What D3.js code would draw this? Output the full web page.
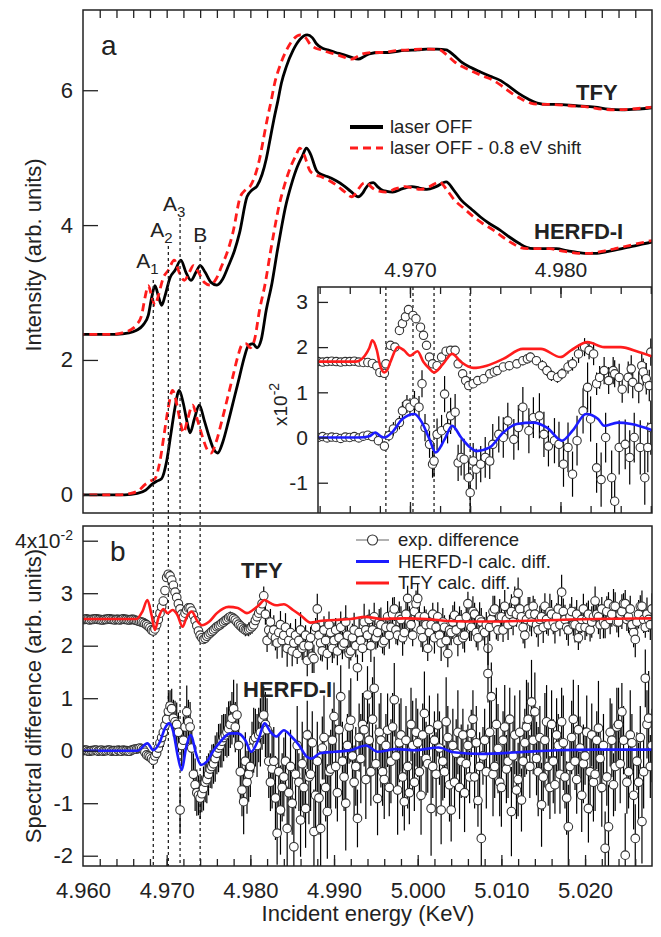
<!DOCTYPE html>
<html>
<head>
<meta charset="utf-8">
<script src="https://cdn.jsdelivr.net/npm/d3@7"></script>
<style>
  body { margin: 0; background: #fff; }
  svg { display: block; }
</style>
</head>
<body>
<div id="chart"></div>
<script>
// energies in eV, panel a in arb. units, differences in units of 1e-2

// panel a: laser OFF spectra
var tfyOff = [
  [4960,2.38],[4964,2.38],[4965.5,2.40],[4966.4,2.44],[4967.2,2.52],[4967.8,2.66],[4968.2,2.92],[4968.6,3.10],
  [4969.0,2.95],[4969.4,2.81],[4969.8,2.95],[4970.4,3.22],[4971.0,3.33],[4971.7,3.48],[4972.3,3.30],[4972.9,3.18],
  [4973.5,3.30],[4974.0,3.40],[4974.6,3.30],[4975.3,3.15],[4976.0,3.11],[4976.7,3.20],[4977.4,3.40],[4978.1,3.62],
  [4978.7,3.88],[4979.6,4.42],[4980.2,4.52],[4980.8,4.58],[4981.4,4.75],[4981.9,4.98],[4982.4,5.30],[4982.8,5.56],
  [4983.3,5.85],[4983.7,6.10],[4984.3,6.35],[4985.1,6.59],[4985.9,6.75],[4986.8,6.82],[4987.4,6.78],[4987.9,6.69],
  [4988.5,6.63],[4989.2,6.60],[4990.2,6.56],[4991.1,6.53],[4992.0,6.49],[4992.9,6.46],[4993.6,6.50],[4994.2,6.54],
  [4995.5,6.56],[4996.5,6.56],[4998.4,6.59],[5000.0,6.60],[5001.1,6.61],[5002.3,6.61],[5003.4,6.60],[5004.3,6.52],
  [5005.2,6.42],[5006.3,6.34],[5007.5,6.27],[5008.6,6.21],[5009.8,6.15],[5011.0,6.05],[5012.1,5.95],[5013.2,5.87],
  [5014.3,5.81],[5015.5,5.79],[5016.6,5.79],[5018.9,5.77],[5021.2,5.75],[5022.8,5.72],[5024.4,5.71],[5026.2,5.72],
  [5028.0,5.74],[5028.8,5.75]
];
var herfdOff = [
  [4960,0.00],[4965,0.00],[4966.5,0.02],[4967.5,0.07],[4968.2,0.15],[4968.8,0.20],[4969.4,0.24],[4970.0,0.50],
  [4970.5,0.90],[4971.0,1.30],[4971.5,1.55],[4972.0,1.35],[4972.4,1.10],[4972.8,0.92],[4973.3,1.12],[4973.9,1.33],
  [4974.5,1.10],[4975.1,0.85],[4975.6,0.68],[4976.1,0.62],[4976.7,0.78],[4977.4,1.10],[4978.1,1.45],[4978.7,1.75],
  [4979.3,2.05],[4979.8,2.22],[4980.3,2.24],[4980.8,2.18],[4981.3,2.30],[4981.9,2.74],[4982.6,3.15],[4983.2,3.60],
  [4983.7,3.95],[4984.2,4.27],[4984.9,4.60],[4985.6,4.86],[4986.2,5.02],[4986.7,5.14],[4987.2,5.05],[4987.9,4.81],
  [4988.5,4.75],[4989.2,4.72],[4990.2,4.66],[4991.1,4.59],[4992.0,4.50],[4992.9,4.42],[4993.4,4.47],[4993.8,4.55],
  [4994.3,4.62],[4994.7,4.63],[4995.2,4.57],[4995.6,4.53],[4996.3,4.50],[4997.0,4.49],[4998.2,4.54],[4999.3,4.57],
  [5000.2,4.55],[5001.1,4.53],[5002.2,4.57],[5003.4,4.64],[5004.3,4.52],[5005.2,4.37],[5006.3,4.25],[5007.5,4.12],
  [5008.6,4.02],[5009.8,3.93],[5011.0,3.82],[5012.1,3.73],[5013.0,3.67],[5013.9,3.65],[5015.3,3.65],[5016.6,3.65],
  [5017.8,3.62],[5018.9,3.60],[5020.0,3.58],[5021.2,3.58],[5022.8,3.61],[5024.4,3.65],[5026.2,3.70],[5028.0,3.75],
  [5028.8,3.77]
];
var shiftEV = 0.8;   // "laser OFF - 0.8 eV shift"

// features A1, A2, A3, B
var markers = [4968.4, 4970.2, 4971.6, 4974.0];
var markerNames = [["A", "1"], ["A", "2"], ["A", "3"], ["B", ""]];

// inset: [E, diff, err]
var insetTfyExp = [
  [4963.9,1.68,.02],[4964.2,1.67,.02],[4964.5,1.68,.02],[4964.8,1.69,.02],[4965.1,1.68,.02],[4965.4,1.67,.02],
  [4965.7,1.68,.02],[4966.0,1.68,.02],[4966.3,1.69,.02],[4966.6,1.67,.02],[4966.9,1.66,.02],[4967.2,1.66,.03],
  [4967.5,1.64,.03],[4967.8,1.58,.04],[4968.0,1.44,.04],[4968.3,1.42,.05],[4968.4,1.63,.05],[4968.7,2.04,.06],
  [4969.0,2.00,.06],[4969.3,2.37,.06],[4969.5,2.52,.06],[4969.7,2.67,.07],[4969.9,2.83,.07],[4970.2,2.70,.07],
  [4970.4,2.63,.07],[4970.7,2.44,.07],[4970.9,2.26,.07],[4971.1,2.04,.07],[4971.3,1.78,.07],[4971.5,1.63,.07],
  [4971.8,1.59,.07],[4972.1,1.78,.08],[4972.4,1.91,.08],[4972.7,1.93,.08],[4973.0,1.93,.08],[4973.2,1.63,.08],
  [4973.5,1.41,.08],[4973.7,1.26,.08],[4973.9,1.15,.08],[4974.2,1.19,.08],[4974.5,1.26,.08],[4974.9,1.30,.08],
  [4975.3,1.41,.08],[4975.6,1.45,.08],[4975.8,1.48,.08],[4976.2,1.56,.08],[4976.6,1.59,.10],[4977.1,1.63,.10],
  [4977.5,1.70,.10],[4977.8,1.74,.10],[4978.0,1.78,.10],[4978.4,1.70,.10],[4978.8,1.59,.12],[4979.1,1.48,.12],
  [4979.4,1.37,.12],[4979.8,1.33,.12],[4980.1,1.41,.12],[4980.5,1.56,.15],[4980.8,1.63,.15],[4981.2,1.85,.20],
  [4981.6,2.00,.20],[4981.9,1.93,.20],[4982.2,1.85,.25],[4982.4,1.19,.25],[4982.6,1.33,.25],[4982.9,1.48,.30],
  [4983.2,1.26,.30],[4983.5,1.48,.30],[4983.6,1.41,.30],[4983.9,1.33,.30],[4984.1,1.07,.30],[4984.5,1.33,.35],
  [4984.7,1.52,.30],[4984.8,1.22,.35],[4985.2,1.11,.35],[4985.4,1.59,.30],[4985.5,1.45,.30],[4985.7,1.30,.35],
  [4985.9,1.15,.35],[4986.0,1.89,.30]
];
var insetHerfdExp = [
  [4963.9,0.00,.03],[4964.2,0.02,.03],[4964.5,-0.01,.03],[4964.8,0.01,.03],[4965.1,0.00,.03],[4965.4,-0.02,.03],
  [4965.7,0.01,.03],[4966.0,0.00,.03],[4966.3,0.02,.03],[4966.6,-0.01,.03],[4966.9,0.03,.04],[4967.2,0.05,.05],
  [4967.5,0.02,.05],[4967.9,-0.07,.10],[4968.3,-0.19,.10],[4968.6,0.04,.12],[4968.9,0.19,.15],[4969.3,0.33,.15],
  [4969.5,0.59,.20],[4969.8,0.74,.20],[4970.0,0.67,.20],[4970.3,0.78,.25],[4970.6,0.67,.25],[4970.8,1.19,.30],
  [4971.0,0.22,.30],[4971.3,-0.15,.30],[4971.5,-0.59,.30],[4971.6,-0.52,.35],[4971.8,0.07,.35],[4972.1,0.15,.35],
  [4972.3,0.96,.40],[4972.5,0.22,.35],[4972.7,0.48,.40],[4973.0,0.56,.40],[4973.2,-0.56,.40],[4973.4,-0.44,.40],
  [4973.6,-0.48,.45],[4973.9,-0.89,.40],[4974.0,-1.22,.45],[4974.2,-0.52,.40],[4974.4,-0.70,.45],[4974.7,-0.59,.40],
  [4975.0,-0.44,.45],[4975.3,-0.52,.40],[4975.5,-0.15,.45],[4975.9,0.07,.40],[4976.2,0.00,.45],[4976.5,0.37,.40],
  [4976.9,-0.04,.45],[4977.2,0.22,.50],[4977.5,0.67,.45],[4977.9,0.15,.50],[4978.2,0.44,.45],[4978.6,0.48,.50],
  [4978.9,0.07,.50],[4979.2,-0.19,.45],[4979.6,-0.07,.50],[4979.9,-0.15,.50],[4980.2,-0.59,.50],[4980.5,-0.22,.55],
  [4980.8,-0.81,.50],[4981.1,-0.07,.55],[4981.5,0.59,.50],[4981.8,1.11,.55],[4982.0,0.41,.50],[4982.4,-0.67,.55],
  [4982.7,-0.93,.60],[4983.0,0.00,.55],[4983.4,-0.89,.60],[4983.6,-1.41,.55],[4983.9,-0.22,.60],[4984.3,-0.15,.55],
  [4984.6,-0.44,.60],[4984.9,0.00,.55],[4985.3,-0.22,.60],[4985.6,-0.89,.60],[4985.8,-0.22,.55],[4986.0,0.22,.60]
];
var insetTfyCalc = [
  [4963.8,1.68],[4966.4,1.68],[4967.0,1.81],[4967.3,1.98],[4967.5,2.15],[4967.8,1.93],[4968.0,1.62],[4968.3,1.44],
  [4968.5,1.50],[4968.7,1.67],[4969.2,2.00],[4969.6,1.93],[4970.0,1.81],[4970.5,1.91],[4970.9,1.67],[4971.3,1.52],
  [4971.6,1.44],[4972.2,1.63],[4972.8,1.85],[4973.4,1.67],[4974.2,1.54],[4975.1,1.59],[4976.2,1.74],[4977.5,1.96],
  [4978.7,1.96],[4980.0,1.78],[4980.7,1.93],[4981.8,2.11],[4982.9,2.00],[4984.0,2.00],[4985.2,1.89],[4986.2,1.78]
];
var insetHerfdCalc = [
  [4963.8,0.00],[4966.6,0.00],[4967.3,0.03],[4967.7,0.11],[4968.0,0.04],[4968.3,0.00],[4968.8,0.11],[4969.5,0.41],
  [4970.3,0.52],[4970.8,0.33],[4971.3,-0.04],[4971.7,-0.33],[4972.3,-0.04],[4972.8,0.26],[4973.4,0.00],[4974.0,-0.22],
  [4974.4,-0.30],[4975.3,-0.22],[4976.2,0.11],[4977.1,0.30],[4978.2,0.33],[4979.1,0.22],[4980.1,-0.07],[4980.8,0.15],
  [4981.7,0.52],[4982.5,0.41],[4982.9,0.26],[4983.8,0.33],[4984.7,0.30],[4986.2,0.15]
];

// panel b: measured differences on a 0.2 eV grid from 4960 eV (10 points = 2 eV per row)
var bExpStart = 4960, bExpStep = 0.2;
var bTfyExp = [
  2.50,2.50,2.51,2.50,2.49,2.50,2.50,2.51,2.51,2.50,
  2.50,2.49,2.49,2.50,2.50,2.51,2.51,2.50,2.50,2.49,
  2.50,2.50,2.49,2.50,2.51,2.50,2.50,2.49,2.49,2.50,
  2.50,2.49,2.48,2.47,2.46,2.45,2.44,2.42,2.40,2.37,
  2.34,2.30,2.28,2.32,2.40,2.50,2.62,2.74,2.85,3.05,
  3.30,3.36,3.33,3.25,3.15,3.02,2.92,2.80,2.70,2.60,
  2.55,2.62,2.68,2.72,2.72,2.66,2.58,2.48,2.38,2.28,
  2.20,2.15,2.12,2.14,2.18,2.21,2.24,2.27,2.30,2.33,
  2.36,2.38,2.40,2.43,2.45,2.48,2.50,2.53,2.55,2.54,
  2.52,2.49,2.45,2.41,2.38,2.35,2.32,2.30,2.30,2.31,
  2.33,2.36,2.40,2.48,2.55,2.62,2.68,2.80,2.95,2.60,
  2.10,2.30,2.45,2.20,2.30,2.15,2.05,2.25,2.40,2.10,
  2.20,2.35,1.95,2.10,2.25,1.90,2.05,2.20,1.85,2.10,
  2.30,1.95,2.00,2.20,1.72,2.00,2.15,1.80,1.75,2.35,
  2.70,2.20,2.05,1.90,2.30,2.10,1.85,2.40,2.25,1.95,
  2.10,2.30,1.90,2.15,2.35,2.00,2.05,2.45,2.20,1.85,
  1.90,2.15,2.30,2.00,1.58,2.25,2.10,1.95,2.45,2.30,
  2.20,2.50,2.00,2.30,2.55,2.15,2.25,2.45,2.40,2.05,
  2.10,2.35,2.55,2.20,2.35,2.60,2.70,2.30,2.20,2.55,
  2.50,2.15,2.25,2.60,2.90,2.45,2.40,2.20,2.65,2.80,
  2.90,2.55,2.30,2.15,2.55,2.40,1.95,2.25,2.40,2.60,
  2.15,2.35,2.55,2.20,2.05,2.45,2.35,2.10,1.85,2.30,
  2.25,2.45,2.58,2.30,2.10,2.50,2.40,2.15,2.20,2.55,
  2.80,2.40,2.35,2.65,2.60,2.25,2.15,2.50,2.45,2.30,
  2.25,2.40,1.95,2.35,2.50,2.65,2.70,2.40,2.30,2.55,
  2.55,2.30,2.75,2.50,2.40,2.60,2.65,2.45,2.85,2.60,
  3.00,2.70,2.55,2.35,2.20,2.50,2.70,2.60,2.45,2.75,
  2.60,2.40,2.30,2.50,2.55,2.35,2.75,2.50,2.40,2.65,
  2.60,2.45,2.35,2.55,2.70,2.40,3.02,2.65,2.50,2.35,
  2.30,2.55,2.65,2.40,2.40,2.60,2.15,2.35,2.50,2.70,
  2.35,2.50,2.60,2.30,2.45,2.55,2.85,2.60,2.55,2.40,
  2.70,2.45,2.40,2.65,2.80,2.50,2.60,2.75,2.75,2.45,
  2.45,2.60,2.65,2.80,2.80,2.50,2.55,2.70,2.40,2.25,
  2.12,2.45,2.60,2.75,2.75,2.50,2.35,2.60,2.50,2.40,
  2.70
];
var bTfyErr = [
  .02,.02,.02,.02,.02,.02,.02,.02,.02,.02,
  .02,.02,.02,.02,.02,.02,.02,.02,.02,.02,
  .02,.02,.02,.02,.02,.02,.02,.02,.02,.02,
  .02,.02,.03,.03,.03,.04,.04,.05,.05,.05,
  .05,.06,.06,.05,.06,.07,.06,.07,.06,.07,
  .07,.06,.07,.08,.07,.06,.07,.08,.07,.06,
  .07,.08,.07,.06,.07,.08,.07,.08,.07,.06,
  .07,.08,.07,.08,.09,.08,.07,.08,.09,.08,
  .08,.09,.08,.10,.09,.08,.10,.09,.10,.09,
  .10,.09,.11,.10,.12,.11,.10,.12,.11,.13,
  .12,.13,.12,.14,.13,.15,.14,.16,.18,.20,
  .22,.18,.25,.20,.28,.24,.30,.19,.26,.33,
  .21,.27,.35,.24,.18,.29,.23,.31,.20,.26,
  .34,.22,.28,.19,.30,.25,.21,.32,.27,.18,
  .29,.24,.33,.20,.26,.22,.31,.25,.19,.28,
  .34,.23,.27,.21,.30,.26,.20,.32,.24,.29,
  .18,.27,.33,.22,.25,.30,.21,.26,.35,.23,
  .28,.19,.31,.24,.27,.22,.29,.25,.33,.20,
  .28,.24,.30,.26,.21,.32,.23,.27,.19,.29,
  .25,.34,.22,.28,.24,.30,.26,.21,.31,.25,
  .28,.23,.33,.27,.20,.29,.24,.32,.26,.22,
  .30,.25,.28,.21,.34,.27,.23,.31,.26,.29,
  .24,.32,.26,.22,.30,.25,.28,.21,.33,.27,
  .23,.31,.26,.29,.22,.28,.24,.33,.27,.20,
  .29,.24,.32,.26,.22,.30,.25,.28,.21,.34,
  .27,.23,.31,.26,.29,.22,.33,.25,.28,.24,
  .30,.26,.21,.31,.25,.28,.23,.33,.27,.20,
  .29,.24,.32,.26,.22,.30,.25,.28,.21,.34,
  .27,.23,.31,.26,.29,.22,.33,.25,.28,.24,
  .30,.25,.28,.21,.34,.27,.23,.31,.26,.29,
  .24,.32,.26,.22,.30,.25,.28,.21,.33,.27,
  .23,.31,.26,.29,.22,.28,.24,.33,.27,.20,
  .29,.24,.33,.20,.26,.22,.31,.25,.19,.28,
  .34,.23,.27,.21,.30,.26,.20,.32,.24,.29,
  .30
];
var bHerfdExp = [
  0.00,0.01,0.01,-0.01,-0.01,0.00,0.00,0.01,0.01,-0.01,
  0.00,0.01,-0.01,0.00,0.00,0.01,0.01,-0.01,0.00,0.00,
  -0.01,0.01,0.00,-0.01,0.01,0.00,0.00,-0.01,-0.01,0.01,
  0.02,0.03,0.03,0.04,0.05,0.04,0.02,-0.03,-0.08,-0.10,
  -0.12,-0.15,-0.18,-0.10,-0.05,0.05,0.15,0.25,0.35,0.48,
  0.60,0.75,0.85,0.80,0.62,0.55,0.50,0.35,-1.13,0.10,
  0.20,0.45,0.74,0.55,0.45,0.05,-0.45,-0.65,-0.80,-0.85,
  -0.90,-0.82,-0.72,-0.60,-0.55,-0.45,-0.35,-0.30,-0.25,-0.15,
  -0.05,0.05,0.10,0.18,0.25,0.30,0.35,0.42,0.50,0.62,
  0.80,0.45,0.68,0.10,-0.40,-0.75,-0.97,-0.20,-0.60,-0.45,
  -0.30,0.05,0.20,0.25,0.10,0.30,0.35,0.60,0.68,0.50,
  0.40,-0.20,-0.60,-0.35,-0.20,-0.90,-1.57,-0.40,-1.13,-0.70,
  -0.50,-0.20,-1.48,-0.80,-0.30,-1.00,-1.83,-0.45,0.10,-0.60,
  -1.32,-0.25,-0.70,-1.10,0.30,-0.50,-0.45,0.15,-1.54,-0.85,
  -0.20,-0.90,-1.48,0.05,0.25,-0.70,-1.16,-0.40,-0.35,0.20,
  0.65,-0.30,-0.80,0.40,1.03,-0.20,-0.50,-1.00,0.10,0.45,
  0.58,-0.10,-0.60,-0.30,-1.29,0.25,-0.15,0.50,0.40,-0.55,
  1.06,0.20,-0.40,0.60,1.19,-0.25,-0.91,0.35,0.20,-0.40,
  -0.55,0.10,0.39,-0.70,-0.20,0.45,0.97,-0.10,-0.75,0.15,
  0.30,-0.50,-0.97,0.20,-0.30,-0.80,0.50,0.10,-0.60,0.35,
  0.15,-0.40,-0.85,0.30,0.71,-0.15,-0.25,0.40,-1.10,-0.30,
  0.20,-0.45,0.49,0.05,-1.13,-0.20,-0.40,0.55,0.25,-0.65,
  -1.13,0.10,-0.60,-0.05,0.35,-0.70,-0.20,0.30,-0.80,-0.25,
  0.10,-0.50,0.33,0.60,-0.50,0.15,-0.95,-0.30,-1.67,-0.10,
  0.20,-0.40,1.47,0.35,1.03,-0.45,-0.30,0.50,0.04,-0.60,
  -0.70,0.20,0.45,-0.35,-0.20,0.60,-1.16,-0.10,0.30,-0.75,
  -0.55,0.35,-0.94,-0.20,0.15,0.45,0.60,-0.30,0.93,0.20,
  0.74,-0.15,-0.40,0.25,-1.03,-0.50,0.20,0.55,-0.30,-0.70,
  0.50,-0.20,-0.65,0.30,0.10,-0.45,0.55,0.15,-0.50,-0.90,
  -1.45,-0.30,0.25,0.60,-0.20,-0.55,0.40,0.05,-0.85,-0.25,
  -0.10,0.35,-1.10,-0.40,0.30,-0.60,-0.45,0.20,0.43,-0.15,
  -0.70,0.10,-1.86,-0.50,-1.45,0.35,0.20,-0.65,-0.30,0.45,
  0.50,-0.25,0.74,0.20,-1.99,-0.60,-0.40,0.30,0.15,-0.85,
  -1.67,-0.20,-0.60,0.25,-1.35,-0.40,1.38,0.50,0.62,-0.30,
  0.10
];
var bHerfdErr = [
  .02,.02,.02,.02,.02,.02,.02,.02,.02,.02,
  .02,.02,.02,.02,.02,.02,.02,.02,.02,.02,
  .02,.02,.02,.02,.02,.02,.02,.02,.02,.02,
  .02,.02,.03,.03,.04,.04,.05,.06,.07,.08,
  .10,.12,.14,.16,.18,.20,.22,.25,.28,.30,
  .32,.35,.30,.38,.35,.40,.42,.38,.45,.40,
  .45,.40,.50,.42,.48,.45,.40,.50,.44,.38,
  .40,.35,.42,.38,.45,.40,.36,.42,.38,.44,
  .40,.46,.42,.50,.45,.40,.48,.52,.45,.50,
  .55,.48,.60,.52,.58,.50,.62,.55,.60,.52,
  .58,.50,.62,.55,.60,.52,.65,.58,.55,.62,
  .60,.70,.55,.75,.65,.80,.60,.70,.85,.65,
  .75,.55,.80,.65,.70,.60,.85,.65,.75,.55,
  .70,.80,.60,.75,.65,.90,.70,.60,.80,.65,
  .75,.70,.85,.60,.80,.65,.90,.70,.75,.60,
  .65,.80,.55,.70,.60,.75,.65,.90,.60,.70,
  .80,.60,.70,.75,.55,.65,.85,.60,.70,.75,
  .55,.70,.65,.80,.60,.75,.70,.55,.90,.65,
  .75,.60,.70,.55,.80,.65,.70,.60,.85,.75,
  .70,.75,.55,.65,.80,.60,.70,.85,.55,.65,
  .65,.55,.75,.60,.80,.70,.55,.65,.90,.60,
  .55,.80,.60,.70,.65,.75,.50,.85,.60,.70,
  .60,.70,.55,.65,.80,.60,.70,.50,.75,.65,
  .40,.50,.45,.55,.60,.70,.50,.65,.75,.55,
  .60,.70,.55,.75,.65,.80,.60,.70,.85,.65,
  .75,.55,.80,.65,.70,.60,.85,.65,.75,.55,
  .70,.80,.60,.75,.65,.90,.70,.60,.80,.65,
  .75,.70,.85,.60,.80,.65,.90,.70,.75,.60,
  .65,.80,.55,.70,.60,.75,.65,.90,.60,.70,
  .80,.60,.70,.75,.55,.65,.85,.60,.70,.75,
  .55,.70,.65,.80,.60,.75,.70,.55,.90,.65,
  .75,.60,.70,.55,.80,.65,.70,.60,.85,.75,
  .70,.75,.55,.65,.80,.60,.70,.85,.55,.65,
  .65,.55,.75,.60,.80,.70,.55,.65,.90,.60,
  .70
];
var bTfyCalc = [
  [4960,2.51],[4966.4,2.51],[4967.1,2.65],[4967.7,2.87],[4968.2,2.58],[4968.6,2.30],[4969.0,2.52],[4969.6,2.70],
  [4970.1,2.62],[4970.7,2.68],[4971.3,2.58],[4971.9,2.36],[4972.4,2.55],[4973.0,2.65],[4973.7,2.46],[4974.2,2.39],
  [4975.1,2.46],[4976.0,2.62],[4977.4,2.74],[4978.5,2.72],[4979.6,2.62],[4980.3,2.68],[4981.0,2.77],[4981.7,2.87],
  [4982.4,2.81],[4983.1,2.77],[4984.0,2.79],[4985.1,2.68],[4986.0,2.58],[4987.2,2.44],[4988.3,2.47],[4990.1,2.49],
  [4992.0,2.51],[4993.8,2.55],[4995.6,2.51],[4998.4,2.52],[5001.1,2.51],[5003.8,2.47],[5007.5,2.46],[5012.0,2.47],
  [5016.6,2.49],[5021.2,2.51],[5028.0,2.52]
];
var bHerfdCalc = [
  [4960,0.00],[4966.5,0.00],[4967.7,0.14],[4968.4,0.01],[4969.2,0.17],[4969.8,0.43],[4970.3,0.52],[4970.8,0.36],
  [4971.3,-0.08],[4971.8,-0.37],[4972.3,0.04],[4972.9,0.30],[4973.5,-0.05],[4974.1,-0.27],[4974.8,-0.21],[4975.5,-0.02],
  [4976.4,0.17],[4977.6,0.33],[4978.5,0.33],[4979.4,0.20],[4980.1,-0.02],[4981.0,0.23],[4981.7,0.52],[4982.4,0.36],
  [4983.1,0.27],[4984.0,0.39],[4984.9,0.27],[4985.8,0.11],[4986.7,-0.11],[4987.3,-0.15],[4988.3,-0.05],[4990.1,-0.02],
  [4992.0,0.01],[4993.8,0.10],[4995.2,-0.02],[4997.4,0.03],[4999.7,0.01],[5002.5,0.06],[5004.3,-0.03],[5007.5,-0.06],
  [5012.0,-0.03],[5016.6,0.01],[5021.2,0.02],[5028.0,0.02]
];

// ---- layout ----
var W = 661, H = 937;
var ink = "#222", red = "#ff1c1c", blue = "#1c1cff";
var font = "'Liberation Sans', Arial, sans-serif";
var left = 83, right = 652;
var aTop = 10, aBottom = 513, bTop = 526, bBottom = 866;
var inset = { left: 318, top: 287, right: 652, bottom: 513 };

var svg = d3.select("#chart").append("svg")
  .attr("width", W).attr("height", H)
  .style("font-family", font);

var x = d3.scaleLinear().domain([4960, 5028]).range([left, right]);
var ya = d3.scaleLinear().domain([-0.27, 7.19]).range([aBottom, aTop]);
var yb = d3.scaleLinear().domain([-2.196, 4.28]).range([bBottom, bTop]);
var xi = d3.scaleLinear().domain([4963.89, 4986.08]).range([inset.left, inset.right]);
var yi = d3.scaleLinear().domain([-1.67, 3.33]).range([inset.bottom, inset.top]);

var defs = svg.append("defs");
function clip(id, x0, y0, x1, y1) {
  defs.append("clipPath").attr("id", id).append("rect")
    .attr("x", x0).attr("y", y0).attr("width", x1 - x0).attr("height", y1 - y0);
  return "url(#" + id + ")";
}
var clipA = clip("clipA", left, aTop, right, aBottom);
var clipB = clip("clipB", left, bTop, right, bBottom);
var clipI = clip("clipI", inset.left, inset.top, inset.right, inset.bottom);

function ticks(axisFn, scale, values, size, tx, ty) {
  svg.append("g")
    .attr("transform", "translate(" + tx + "," + ty + ")")
    .attr("color", ink)
    .call(axisFn(scale).tickValues(values).tickSize(size).tickFormat(""))
    .call(function (g) { g.select(".domain").remove(); })
    .call(function (g) { g.selectAll(".tick line").attr("stroke-width", 1.3); });
}
function labels(axisFn, scale, values, pad, tx, ty, fmt, size) {
  svg.append("g")
    .attr("transform", "translate(" + tx + "," + ty + ")")
    .call(axisFn(scale).tickValues(values).tickSize(0).tickPadding(pad).tickFormat(fmt))
    .attr("font-size", size || 22).attr("font-family", font)
    .call(function (g) { g.select(".domain").remove(); })
    .call(function (g) { g.selectAll("text").attr("fill", ink); });
}
var fmtKeV = function (d) { return (d / 1000).toFixed(3); };
var fmtNum = function (d) { return String(d); };

function curve(g, data, xs, ys, color, width, dash) {
  g.append("path")
    .datum(data)
    .attr("fill", "none")
    .attr("stroke", color)
    .attr("stroke-width", width)
    .attr("stroke-dasharray", dash || null)
    .attr("d", d3.line().x(function (d) { return xs(d[0]); }).y(function (d) { return ys(d[1]); })
      .curve(d3.curveMonotoneX));
}
function expPoints(g, data, xs, ys, r) {
  g.selectAll(null).data(data).enter().append("line")
    .attr("x1", function (d) { return xs(d[0]); })
    .attr("x2", function (d) { return xs(d[0]); })
    .attr("y1", function (d) { return ys(d[1] - d[2]); })
    .attr("y2", function (d) { return ys(d[1] + d[2]); })
    .attr("stroke", "#000").attr("stroke-width", 1.2);
  g.selectAll(null).data(data).enter().append("circle")
    .attr("cx", function (d) { return xs(d[0]); })
    .attr("cy", function (d) { return ys(d[1]); })
    .attr("r", r)
    .attr("fill", "#fff").attr("stroke", "#333").attr("stroke-width", 1.1);
}
function dotted(x0, y0, y1) {
  svg.append("line")
    .attr("x1", x0).attr("x2", x0).attr("y1", y0).attr("y2", y1)
    .attr("stroke", ink).attr("stroke-width", 1.3).attr("stroke-dasharray", "3,3");
}

// ---- panel a ----
var gA = svg.append("g").attr("clip-path", clipA);
var shifted = function (arr) { return arr.map(function (d) { return [d[0] - shiftEV, d[1]]; }); };
[tfyOff, herfdOff].forEach(function (s) {
  curve(gA, s, x, ya, "#000", 2.8);
  curve(gA, shifted(s), x, ya, red, 2.8, "8,5");
});

ticks(d3.axisBottom, x, d3.range(4962, 5028, 2), 8, 0, aTop);
ticks(d3.axisRight, ya, [0, 2, 4, 6], 15, left, 0);
labels(d3.axisLeft, ya, [0, 2, 4, 6], 0, 73, 0, fmtNum);

svg.append("text").attr("x", 101).attr("y", 55).attr("font-size", 28).attr("fill", ink).text("a");
svg.append("text").attr("x", 576).attr("y", 100).attr("font-size", 22).attr("font-weight", "bold").attr("fill", ink).text("TFY");
svg.append("text").attr("x", 534).attr("y", 239).attr("font-size", 22).attr("font-weight", "bold").attr("fill", ink).text("HERFD-I");

// legend a
var legA = [["laser OFF", "#000", null, 3.8], ["laser OFF - 0.8 eV shift", red, "8,5", 2.8]];
legA.forEach(function (d, i) {
  var yy = 127 + i * 21;
  svg.append("line").attr("x1", 350).attr("x2", 383).attr("y1", yy).attr("y2", yy)
    .attr("stroke", d[1]).attr("stroke-width", d[3]).attr("stroke-dasharray", d[2]);
  svg.append("text").attr("x", 390).attr("y", yy + 6).attr("font-size", 18.5).attr("fill", ink).text(d[0]);
});

// markers with labels
var markerTop = [280, 246, 218, 246];
var nameDx = [-17, -18, -17, -7];
var nameY = [268, 237, 211, 242];
markers.forEach(function (m, i) {
  dotted(x(m), markerTop[i], bBottom);
  var t = svg.append("text").attr("x", x(m) + nameDx[i]).attr("y", nameY[i])
    .attr("font-size", 21).attr("fill", ink);
  t.append("tspan").text(markerNames[i][0]);
  if (markerNames[i][1]) t.append("tspan").attr("dy", 6).attr("font-size", 15).text(markerNames[i][1]);
});

// ---- inset ----
svg.append("rect").attr("x", inset.left).attr("y", inset.top)
  .attr("width", inset.right - inset.left).attr("height", inset.bottom - inset.top)
  .attr("fill", "#fff");
markers.forEach(function (m) { dotted(xi(m), inset.top, inset.bottom); });
var gI = svg.append("g").attr("clip-path", clipI);
expPoints(gI, insetTfyExp, xi, yi, 4.2);
expPoints(gI, insetHerfdExp, xi, yi, 4.2);
curve(gI, insetTfyCalc, xi, yi, red, 2.6);
curve(gI, insetHerfdCalc, xi, yi, blue, 2.6);

ticks(d3.axisBottom, xi, d3.range(4964, 4987, 2), 7, 0, inset.top);
ticks(d3.axisBottom, xi, [4970, 4980], 11, 0, inset.top);
ticks(d3.axisTop, xi, d3.range(4964, 4987, 2), 7, 0, inset.bottom);
ticks(d3.axisTop, xi, [4970, 4980], 11, 0, inset.bottom);
ticks(d3.axisRight, yi, [-1, 0, 1, 2, 3], 10, inset.left, 0);
labels(d3.axisTop, xi, [4970, 4980], 10, 0, inset.top, fmtKeV, 21);
labels(d3.axisLeft, yi, [-1, 0, 1, 2, 3], 0, 308, 0, fmtNum, 21);

var it = svg.append("text").attr("transform", "translate(287,426) rotate(-90)")
  .attr("font-size", 19).attr("fill", ink);
it.append("tspan").text("x10");
it.append("tspan").attr("dy", -8).attr("font-size", 14).text("-2");

svg.append("path")
  .attr("d", "M" + inset.left + "," + inset.bottom + "V" + inset.top + "H" + inset.right)
  .attr("fill", "none").attr("stroke", ink).attr("stroke-width", 1.5);

// ---- panel b ----
var bTfy = bTfyExp.map(function (v, i) { return [bExpStart + i * bExpStep, v, bTfyErr[i]]; });
var bHerfd = bHerfdExp.map(function (v, i) { return [bExpStart + i * bExpStep, v, bHerfdErr[i]]; });
var gB = svg.append("g").attr("clip-path", clipB);
expPoints(gB, bTfy, x, yb, 4.3);
expPoints(gB, bHerfd, x, yb, 4.3);
curve(gB, bTfyCalc, x, yb, red, 2.6);
curve(gB, bHerfdCalc, x, yb, blue, 2.6);

ticks(d3.axisTop, x, d3.range(4962, 5028, 2), 7, 0, bBottom);
ticks(d3.axisTop, x, d3.range(4970, 5021, 10), 11, 0, bBottom);
ticks(d3.axisRight, yb, [-2, -1, 0, 1, 2, 3, 4], 15, left, 0);
labels(d3.axisBottom, x, d3.range(4960, 5021, 10), 16, 0, bBottom, fmtKeV);
labels(d3.axisLeft, yb, [-2, -1, 0, 1, 2, 3], 0, 73, 0, fmtNum);
var t4 = svg.append("text").attr("x", 73).attr("y", yb(4) + 7).attr("text-anchor", "end")
  .attr("font-size", 21).attr("fill", ink);
t4.append("tspan").text("4x10");
t4.append("tspan").attr("dy", -8).attr("font-size", 14).text("-2");

svg.append("text").attr("x", 110).attr("y", 561).attr("font-size", 28).attr("fill", ink).text("b");
svg.append("text").attr("x", 241).attr("y", 578).attr("font-size", 22).attr("font-weight", "bold").attr("fill", ink).text("TFY");
svg.append("text").attr("x", 243).attr("y", 697).attr("font-size", 22).attr("font-weight", "bold").attr("fill", ink).text("HERFD-I");

// legend b
var legB = [["exp. difference", "#666", 1.2, true], ["HERFD-I calc. diff.", blue, 3, false], ["TFY calc. diff.", red, 3, false]];
legB.forEach(function (d, i) {
  var yy = 540 + i * 21.5;
  svg.append("line").attr("x1", 356).attr("x2", 389).attr("y1", yy).attr("y2", yy)
    .attr("stroke", d[1]).attr("stroke-width", d[2]);
  if (d[3]) svg.append("circle").attr("cx", 372.5).attr("cy", yy).attr("r", 5)
    .attr("fill", "#fff").attr("stroke", "#333").attr("stroke-width", 1.1);
  svg.append("text").attr("x", 398).attr("y", yy + 6).attr("font-size", 18.5).attr("fill", ink).text(d[0]);
});

// ---- frames and titles ----
[[aTop, aBottom], [bTop, bBottom]].forEach(function (p) {
  svg.append("rect").attr("x", left).attr("y", p[0])
    .attr("width", right - left).attr("height", p[1] - p[0])
    .attr("fill", "none").attr("stroke", ink).attr("stroke-width", 1.5);
});

svg.append("text").attr("transform", "translate(41,255) rotate(-90)").attr("text-anchor", "middle")
  .attr("font-size", 22).attr("fill", ink).text("Intensity (arb. units)");
svg.append("text").attr("transform", "translate(41,696) rotate(-90)").attr("text-anchor", "middle")
  .attr("font-size", 22).attr("fill", ink).text("Spectral difference (arb. units)");
svg.append("text").attr("x", 368).attr("y", 921).attr("text-anchor", "middle")
  .attr("font-size", 22).attr("fill", ink).text("Incident energy (KeV)");
</script>
</body>
</html>
